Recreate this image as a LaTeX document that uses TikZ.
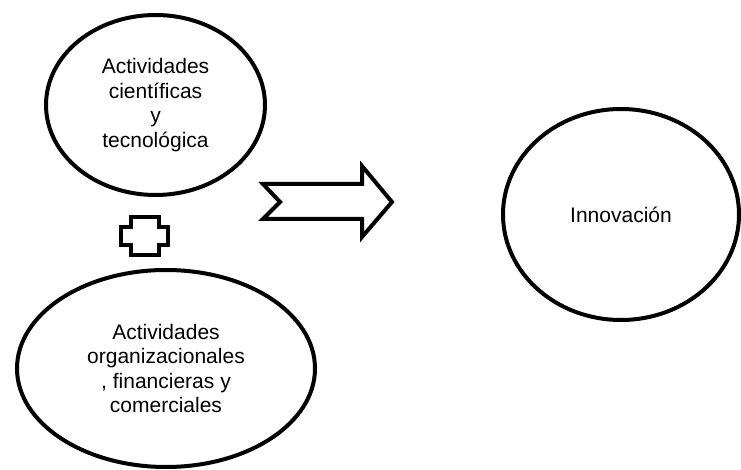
\documentclass[tikz,border=0pt]{standalone}
\usepackage{fontspec}
\setmainfont{Liberation Sans}
\usetikzlibrary{shapes.geometric}
\tikzstyle{bubble} = [draw, ellipse, line width=4pt, inner sep=0pt,
   align=center, font=\fontsize{21}{24.5}\selectfont]
\tikzstyle{outline} = [line width=4pt, line join=miter]

\begin{document}
\begin{tikzpicture}[x=1pt,y=-1pt]
  \useasboundingbox (0,0) rectangle (741,470);

  \node[bubble, minimum width=219pt, minimum height=180pt] (ciencia) at (155.5,105) {Actividades\\científicas\\y\\tecnológica};
  \node[bubble, minimum width=298pt, minimum height=197pt] (organiza) at (166,368.5) {Actividades\\organizacionales\\, financieras y\\comerciales};
  \node[bubble, minimum width=236pt, minimum height=211pt] (innova) at (621,214.5) {Innovación};

  % plus sign between the two bubbles
  \draw[outline] (131,217) -- (159,217) -- (159,227) -- (168,227) -- (168,245) -- (159,245)
     -- (159,255) -- (131,255) -- (131,245) -- (121,245) -- (121,227) -- (131,227) -- cycle;

  % block arrow towards innovation
  \draw[outline] (263,184) -- (362,184) -- (362,166) -- (392,202) -- (362,237) -- (362,219)
     -- (263,219) -- (280,202) -- cycle;
\end{tikzpicture}
\end{document}
